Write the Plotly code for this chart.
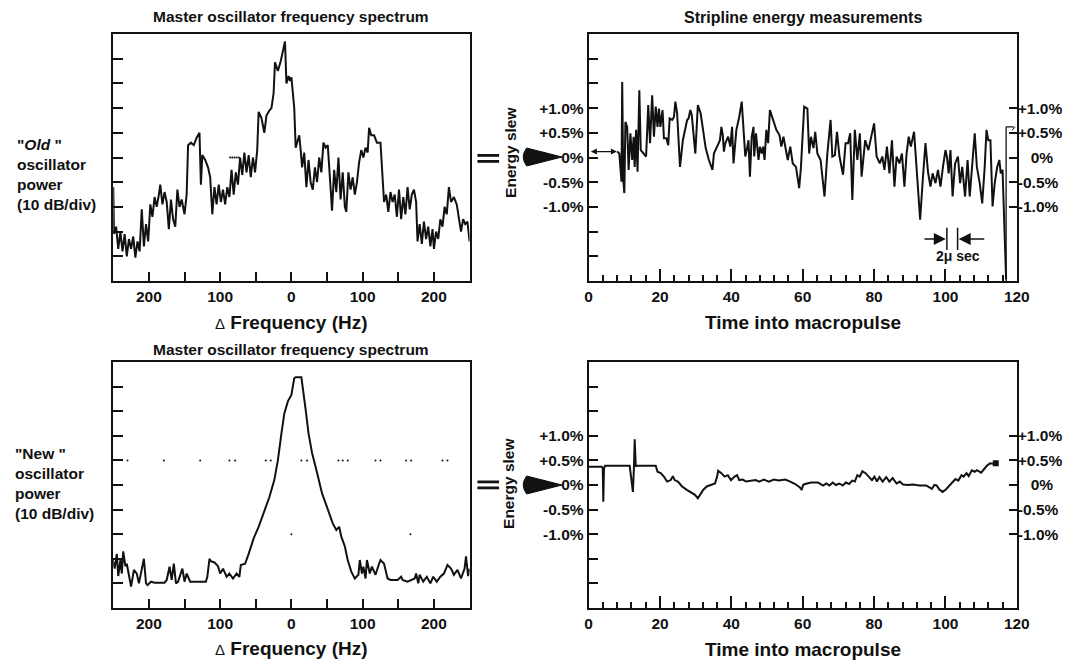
import plotly.graph_objects as go

# ---------------- data ----------------
old_freq = [-250, -249, -246, -243, -240, -237, -234, -231, -228, -225, -222, -219, -216, -213, -210, -207,
            -204, -201, -198, -195, -192, -189, -186, -184, -181, -178, -175, -172, -169, -166, -163, -160,
            -157, -154, -150, -147, -145, -141, -137, -133, -129, -127, -125, -121, -117, -114, -111, -108,
            -105, -102, -99, -96, -93, -90, -87, -84, -81, -78, -75, -72, -69, -66, -63, -60, -57, -54, -51,
            -48, -46, -42, -38, -35, -31, -28, -25, -23, -19, -15, -9, -7, -4, -2, 0, 4, 6, 9, 11, 13, 15,
            18, 21, 24, 27, 30, 33, 36, 39, 42, 45, 48, 51, 54, 57, 60, 63, 66, 69, 72, 75, 77, 80, 83, 86,
            89, 92, 95, 98, 101, 104, 107, 109, 112, 116, 120, 125, 130, 133, 136, 139, 142, 145, 148, 151,
            154, 157, 160, 163, 166, 169, 172, 175, 177, 180, 183, 186, 189, 192, 195, 198, 200, 203, 206,
            209, 212, 215, 218, 221, 224, 228, 232, 236, 238, 241, 244, 247, 250]
old_power = [3.8, 1.9, 2.2, 1.3, 2.0, 1.2, 1.9, 1.0, 1.7, 1.3, 1.8, 0.95, 1.6, 1.2, 2.9, 1.4,
             2.3, 1.6, 3.1, 2.6, 3.4, 3.0, 3.5, 3.9, 3.1, 3.6, 3.2, 2.1, 3.3, 2.5, 2.2, 3.7,
             3.0, 3.3, 2.7, 3.5, 5.5, 5.6, 5.5, 5.8, 6.0, 3.9, 5.1, 4.9, 4.6, 4.2, 2.7, 3.8,
             3.1, 3.9, 3.2, 3.7, 3.1, 3.8, 3.4, 4.5, 3.5, 4.4, 3.9, 5.0, 4.3, 5.2, 4.4, 5.1, 4.2, 5.0, 4.4,
             5.3, 6.85, 6.6, 6.0, 6.7, 6.9, 7.0, 7.6, 8.85, 8.5, 8.9, 9.7, 8.0, 8.3, 8.1, 8.25, 7.0, 5.4, 5.7, 5.9, 5.3, 4.6,
             5.2, 3.8, 4.9, 4.0, 3.7, 4.6, 4.0, 5.0, 4.4, 5.6, 5.4, 5.5, 4.2, 2.85, 4.5, 3.6, 5.0, 3.3, 4.4, 3.0, 2.8, 4.4, 3.7, 4.2,
             3.5, 4.0, 4.8, 5.3, 5.0, 5.4, 5.2, 6.2, 5.9, 5.9, 5.6, 5.6, 3.2, 3.5, 2.8, 3.6, 3.2, 3.5, 2.6, 3.7,
             2.5, 3.4, 2.7, 3.8, 2.9, 3.5, 3.7, 3.2, 1.6, 2.3, 1.5, 2.4, 1.7, 2.2, 1.4, 2.1, 1.3, 2.0, 1.7,
             2.5, 2.2, 3.0, 2.7, 3.8, 3.2, 3.4, 3.1, 2.3, 2.0, 2.5, 2.3, 2.4, 1.6]

new_freq = [-251, -248, -245, -243, -240, -238, -236, -233, -231, -228, -225, -221, -217, -214, -209, -207,
            -204, -202, -197, -192, -185, -178, -175, -171, -168, -165, -162, -159, -153, -150, -147, -142,
            -135, -120, -118, -115, -113, -108, -103, -100, -96, -91, -87, -82, -77, -73, -71, -65, -60, -53,
            -46, -38, -31, -24, -19, -14, -10, -5, 0, 4, 6, 14, 17, 20, 24, 29, 36, 43, 50, 58, 63, 67, 70,
            75, 79, 84, 89, 94, 96, 99, 101, 104, 106, 110, 113, 118, 123, 125, 130, 135, 139, 149, 154, 156,
            163, 173, 175, 178, 180, 185, 190, 195, 199, 204, 209, 214, 219, 224, 228, 233, 238, 243, 245, 248, 250]
new_power = [2.0, 1.6, 2.2, 1.3, 1.95, 1.4, 2.3, 1.7, 1.8, 1.3, 0.87, 1.55, 1.4, 1.0, 1.7, 2.0,
             1.0, 0.93, 1.07, 1.03, 1.03, 1.03, 1.14, 1.68, 1.14, 1.8, 1.0, 1.07, 1.6, 1.07, 1.4, 1.07,
             1.07, 1.07, 1.27, 2.0, 1.9, 1.85, 1.7, 1.4, 1.6, 1.27, 1.4, 1.2, 1.4, 1.27, 1.75, 1.8, 2.2, 2.83,
             3.3, 3.9, 4.5, 5.2, 6.0, 7.1, 7.9, 8.4, 8.66, 9.34, 9.38, 9.38, 8.8, 8.05, 7.1, 6.3, 5.5, 4.66, 4.1, 3.44, 3.17, 3.3, 2.9,
             2.5, 1.95, 1.48, 1.2, 1.35, 1.95, 1.4, 1.68, 1.2, 1.95, 1.4, 1.68, 1.35, 1.8, 1.95, 1.8, 1.2, 1.14, 1.14, 1.27, 1.14,
             1.07, 1.2, 1.4, 1.0, 1.35, 1.07, 1.27, 1.0, 1.27, 1.07, 1.27, 1.4, 1.75, 1.6, 1.35, 1.55, 1.2, 1.6, 2.1, 1.3, 1.6]

# "old" stripline energy measurement (% energy slew vs time into macropulse)
old_time = [8.0, 8.6, 9.2, 9.4, 9.7, 10.0, 10.3, 10.8, 11.2, 11.7, 12.2, 12.6, 12.9, 13.3, 13.7, 14.2, 14.6,
            15.4, 16.1, 16.7, 17.2, 17.8, 18.3, 18.8, 19.3, 19.7, 20.1, 20.7, 21.1, 21.8, 22.3, 22.7, 23.4,
            23.9, 24.3, 24.8, 25.2, 25.6, 26.4, 27.0, 27.6, 28.0, 28.5, 28.9, 29.4, 29.9, 30.6, 31.4, 32.8,
            33.7, 34.7, 35.1, 36.0, 36.8, 37.2, 37.6, 37.9, 38.3, 39.1, 39.7, 40.2, 40.6, 41.4, 42.2, 42.9,
            43.4, 43.9, 44.3, 44.8, 45.2, 45.7, 46.2, 46.4, 46.9, 47.4, 47.6, 48.0, 48.5, 48.9, 49.3, 49.8,
            50.3, 50.8, 51.7, 52.6, 53.5, 54.0, 54.6, 55.3, 55.8, 56.5, 57.2, 58.1, 59.0, 59.5, 60.4, 61.3,
            61.8, 62.3, 63.0, 63.5, 64.1, 65.0, 66.1, 66.9, 67.8, 68.3, 69.0, 69.6, 70.3, 71.3, 72.0, 72.7,
            73.3, 73.9, 74.6, 75.3, 76.0, 76.5, 77.5, 78.4, 79.0, 80.0, 80.7, 81.6, 82.3, 82.9, 83.6, 84.3,
            85.0, 85.7, 86.3, 87.1, 87.8, 88.5, 89.1, 89.7, 90.3, 91.2, 92.2, 92.9, 93.7, 94.4, 95.1, 95.8,
            96.4, 97.2, 97.9, 98.6, 99.3, 100.0, 100.4, 100.9, 101.4, 102.0, 102.7, 103.5, 104.1, 104.7,
            105.5, 106.2, 106.8, 107.5, 108.2, 108.8, 109.6, 110.3, 111.0, 111.5, 112.0, 112.6, 113.2, 113.8,
            114.5, 115.1, 115.5, 116.0, 116.5, 117.0]
old_slew = [0.12, 0.08, -0.49, 1.53, -0.45, -0.72, 0.72, 0.62, -0.25, 0.49, -0.05, 0.42, -0.19, 0.56, -0.29, 1.36, 0.15,
            0.08, 0.02, 1.06, 0.29, 1.26, 0.42, 1.03, 0.62, 0.99, 0.62, 0.96, 0.39, 0.39, 0.25, 0.79, 0.76,
            0.82, 1.13, 0.89, 0.42, -0.19, 0.35, 0.56, 0.76, 0.79, 0.96, 0.86, 0.49, 0.08, 1.06, 0.89, 0.19,
            -0.05, -0.25, 0.08, 0.22, 0.35, 0.62, 0.45, 0.12, 0.29, 0.42, 0.22, 0.62, -0.12, 0.56, 0.82, 1.13,
            0.62, 0.02, 0.15, 0.35, -0.39, 0.42, 0.62, 0.02, 0.49, 0.12, -0.05, 0.22, 0.08, 0.22, -0.05, 0.56,
            0.29, 0.96, 0.76, 0.56, 0.45, 0.22, 0.42, 0.15, -0.05, 0.22, -0.12, -0.19, -0.62, -0.19, 1.03, 0.99,
            0.08, 0.42, 0.19, 0.52, 0.08, -0.05, -0.79, 0.08, 0.76, 0.02, 0.05, 0.52, 0.02, -0.35, 0.29, 0.29,
            0.49, -0.86, 0.56, -0.05, 0.49, -0.39, 0.35, 0.15, 0.35, 0.69, 0.02, -0.12, 0.02, -0.25, 0.22, -0.32,
            0.35, -0.59, 0.02, -0.12, 0.08, -0.59, 0.08, 0.42, 0.22, 0.52, -0.52, -1.26, -0.39, 0.29, -0.29, -0.59,
            -0.32, -0.52, -0.25, -0.59, -0.19, 0.15, 0.02, -0.32, 0.15, -0.79, -0.12, 0.02, -0.52, -0.19,
            -0.79, -0.05, -0.79, -0.12, 0.49, -0.19, -0.52, -0.93, -0.19, 0.56, 0.35, 0.35, -0.99, -0.52,
            -0.19, -0.05, -0.32, -0.25, -1.26, -2.47]

# "new" stripline energy measurement
new_time = [0.0, 3.7, 3.95, 4.1, 4.3, 4.6, 11.5, 11.75, 12.4, 12.7, 12.9, 13.2, 13.3, 18.8, 19.3, 20.2, 21.1,
            22.0, 23.0, 23.6, 24.1, 25.0, 26.2, 27.5, 28.9, 29.8, 30.6, 31.2, 32.1, 33.1, 34.4, 35.4, 36.0,
            36.3, 37.2, 38.1, 39.0, 39.9, 40.9, 41.6, 42.2, 43.2, 44.1, 45.5, 46.8, 47.8, 49.1, 50.5, 51.9,
            53.3, 55.1, 56.5, 57.9, 59.2, 59.7, 60.1, 60.6, 62.4, 64.3, 65.7, 66.6, 67.5, 68.4, 69.3, 70.3,
            71.2, 72.1, 73.0, 73.9, 74.6, 75.3, 76.0, 76.7, 77.6, 78.5, 79.4, 80.1, 80.8, 81.5, 82.4, 83.4,
            84.3, 85.2, 86.3, 87.2, 88.1, 89.5, 90.9, 92.7, 94.6, 95.5, 96.2, 96.9, 97.5, 98.3, 99.2, 100.1,
            101.0, 101.9, 102.8, 103.6, 104.5, 105.1, 105.9, 106.5, 107.4, 108.2, 108.8, 110.0, 110.6, 111.6,
            112.5, 113.4, 114.1]
new_slew = [0.37, 0.37, 0.34, -0.34, 0.34, 0.39, 0.39, 0.24, -0.14, 0.37, 0.93, 0.37, 0.39, 0.39, 0.27, 0.24, 0.17,
            0.07, 0.10, 0.18, 0.10, 0.07, -0.03, -0.10, -0.17, -0.20, -0.27, -0.20, -0.10, -0.03, 0.0, 0.03, 0.17,
            0.29, 0.24, 0.17, 0.20, 0.10, 0.17, 0.20, 0.10, 0.11, 0.07, 0.09, 0.10, 0.07, 0.11, 0.07, 0.11,
            0.09, 0.11, 0.07, 0.02, -0.05, -0.10, 0.0, 0.02, 0.05, 0.05, -0.01, 0.03, -0.01, 0.05, 0.0, 0.03,
            -0.01, 0.05, 0.02, 0.09, 0.07, 0.20, 0.17, 0.28, 0.24, 0.17, 0.10, 0.17, 0.07, 0.16, 0.07, 0.16,
            0.07, 0.14, 0.03, 0.07, 0.01, 0.0, 0.01, -0.01, -0.01, -0.05, -0.08, 0.0, -0.01, -0.09, -0.14, -0.09,
            -0.02, 0.05, 0.12, 0.09, 0.20, 0.17, 0.24, 0.18, 0.30, 0.27, 0.30, 0.25, 0.30, 0.39,
            0.44, 0.43, 0.44]

freq_ticks = [-200, -150, -100, -50, 0, 50, 100, 150, 200]
freq_labels = ["200", "", "100", "", "0", "", "100", "", "200"]
slew_ticks = [-2.0, -1.5, -1.0, -0.5, 0.0, 0.5, 1.0, 1.5, 2.0]
slew_labels = ["", "", "-1.0%", "-0.5%", "0%", "+0.5%", "+1.0%", "", ""]
slew_right_ticks = [-1.0, -0.5, 0.0, 0.5, 1.0]
slew_right_labels = ["-1.0%", "-0.5%", "\u00a0\u00a0\u00a00%", "+0.5%", "+1.0%"]

# graticule dots visible on the analyser screens
old_dot_freq = [-86, -83, -80, -77, -74]
old_dot_level = [5.0, 5.0, 5.0, 5.0, 5.0]
new_dot_freq = [-230, -179, -128, -87, -79, -36, -29, 14, 22, 66, 72, 79, 118, 125, 161, 168, 212, 219, 0, 167]
new_dot_level = [6, 6, 6, 6, 6, 6, 6, 6, 6, 6, 6, 6, 6, 6, 6, 6, 6, 6, 3, 3]

# ---------------- layout helpers ----------------
W, H = 1081, 661
def px(x):
    return x / W
def py(y):
    return 1 - y / H

FONT = "Liberation Sans, Arial, Helvetica, sans-serif"
BLACK = "#111111"

fig = go.Figure()

line_style = dict(color=BLACK, width=2)
fig.add_trace(go.Scatter(x=old_freq, y=old_power, mode="lines", line=line_style,
                         xaxis="x", yaxis="y", showlegend=False, hoverinfo="skip"))
fig.add_trace(go.Scatter(x=old_dot_freq, y=old_dot_level, mode="markers",
                         marker=dict(color=BLACK, size=2), xaxis="x", yaxis="y", showlegend=False))
fig.add_trace(go.Scatter(x=old_time, y=old_slew, mode="lines", line=line_style,
                         xaxis="x2", yaxis="y2", showlegend=False, hoverinfo="skip"))
fig.add_trace(go.Scatter(x=new_freq, y=new_power, mode="lines", line=line_style,
                         xaxis="x3", yaxis="y3", showlegend=False, hoverinfo="skip"))
fig.add_trace(go.Scatter(x=new_dot_freq, y=new_dot_level, mode="markers",
                         marker=dict(color=BLACK, size=2), xaxis="x3", yaxis="y3", showlegend=False))
fig.add_trace(go.Scatter(x=new_time, y=new_slew, mode="lines", line=line_style,
                         xaxis="x4", yaxis="y4", showlegend=False, hoverinfo="skip"))
fig.add_trace(go.Scatter(x=new_time[-1:], y=new_slew[-1:], mode="markers",
                         marker=dict(color=BLACK, size=6, symbol="square"),
                         xaxis="x4", yaxis="y4", showlegend=False))
# invisible traces to carry the right-hand percentage axes
fig.add_trace(go.Scatter(x=[60], y=[0], mode="markers", marker=dict(opacity=0),
                         xaxis="x2", yaxis="y5", showlegend=False, hoverinfo="skip"))
fig.add_trace(go.Scatter(x=[60], y=[0], mode="markers", marker=dict(opacity=0),
                         xaxis="x4", yaxis="y6", showlegend=False, hoverinfo="skip"))

tickfont = dict(family=FONT, size=15.5, color=BLACK, weight="bold")
box = dict(showline=True, linecolor=BLACK, linewidth=2, mirror=True, showgrid=False,
           zeroline=False, ticks="inside", tickcolor=BLACK, tickwidth=1.5, tickfont=tickfont)

LX = [px(111), px(473)]
RX = [px(594), px(1029)]
TY = [py(281), py(34)]
BY = [py(608), py(362)]

def freq_x(dom, anchor):
    return dict(box, domain=dom, anchor=anchor, range=[-250, 250], tickmode="array",
                tickvals=freq_ticks, ticktext=freq_labels, ticklen=9)
def power_y(dom, anchor):
    return dict(box, domain=dom, anchor=anchor, range=[0, 10], tickmode="array",
                tickvals=[1, 2, 3, 4, 5, 6, 7, 8, 9], showticklabels=False, ticklen=10)
def time_x(dom, anchor):
    return dict(box, domain=dom, anchor=anchor, range=[0, 120], tickmode="linear", tick0=0,
                dtick=20, ticklen=12,
                minor=dict(dtick=4, tick0=0, ticklen=6, tickwidth=1.5, tickcolor=BLACK, ticks="inside"))
def slew_y(dom, anchor):
    return dict(box, domain=dom, anchor=anchor, range=[-2.5, 2.5], tickmode="array",
                tickvals=slew_ticks, ticktext=slew_labels, ticklen=9)
def slew_right(overlay, anchor):
    return dict(overlaying=overlay, anchor=anchor, side="right", range=[-2.5, 2.5],
                tickmode="array", tickvals=slew_right_ticks, ticktext=slew_right_labels,
                ticks="inside", ticklen=8, tickwidth=1.5, tickcolor=BLACK, showline=False,
                showgrid=False, zeroline=False, tickfont=tickfont)

fig.update_layout(
    width=W, height=H, autosize=False, margin=dict(l=0, r=0, t=0, b=0),
    paper_bgcolor="white", plot_bgcolor="white",
    font=dict(family=FONT, color=BLACK, size=14, weight="bold"),
    xaxis=freq_x(LX, "y"), yaxis=power_y(TY, "x"),
    xaxis2=time_x(RX, "y2"), yaxis2=slew_y(TY, "x2"),
    xaxis3=freq_x(LX, "y3"), yaxis3=power_y(BY, "x3"),
    xaxis4=time_x(RX, "y4"), yaxis4=slew_y(BY, "x4"),
    yaxis5=slew_right("y2", "x2"), yaxis6=slew_right("y4", "x4"),
)

annotations = []
def label(x, y, text, size=14, **kw):
    d = dict(x=px(x), y=py(y), xref="paper", yref="paper", text=text, showarrow=False,
             xanchor="center", yanchor="middle",
             font=dict(family=FONT, size=size, color=BLACK, weight="bold"))
    d.update(kw)
    annotations.append(d)

# panel titles
label(292, 16, "Master oscillator frequency spectrum", 15.5)
label(812, 17, "Stripline energy measurements", 16)
label(292, 349, "Master oscillator frequency spectrum", 15.5)
# axis titles
delta = "<span style='font-weight:normal;font-size:15px'>\u0394</span> Frequency (Hz)"
label(292, 322, delta, 19)
label(292, 648, delta, 19)
label(812, 322, "Time into macropulse", 19)
label(812, 649, "Time into macropulse", 19)
# row labels
label(11, 175, '"<i>Old</i> "<br>oscillator<br>power<br>(10 dB/div)', 15.5, xanchor="left", align="left")
label(9, 483, '"New "<br>oscillator<br>power<br>(10 dB/div)', 15.5, xanchor="left", align="left")
# energy slew labels
label(514, 152, "Energy slew", 15.5, textangle=-90)
label(512, 483, "Energy slew", 15.5, textangle=-90)
# 2 micro-second marker text
annotations.append(dict(x=103.4, y=-2.0, xref="x2", yref="y2", text="2\u03bc sec", showarrow=False,
                        xanchor="center", yanchor="middle",
                        font=dict(family=FONT, size=14, color=BLACK, weight="bold")))
# arrows for 2 micro-second marker
for tail, head in [(93.7, 100.1), (111.3, 103.7)]:
    annotations.append(dict(x=head, y=-1.65, ax=tail, ay=-1.65, xref="x2", yref="y2",
                            axref="x2", ayref="y2", text="", showarrow=True, arrowhead=2,
                            arrowsize=1.6, arrowwidth=1.5, arrowcolor=BLACK))
# double arrow at start of the old measurement
annotations.append(dict(x=7.9, y=0.12, ax=0.2, ay=0.12, xref="x2", yref="y2", axref="x2",
                        ayref="y2", text="", showarrow=True, arrowhead=2, startarrowhead=2,
                        arrowside="end+start", arrowsize=1, arrowwidth=1.2, arrowcolor=BLACK))
fig.update_layout(annotations=annotations)

shapes = []
# "=" signs
for yc in (157.5, 484.0):
    for dy in (-3.5, 2.5):
        shapes.append(dict(type="rect", xref="paper", yref="paper",
                           x0=px(481), x1=px(503), y0=py(yc + dy), y1=py(yc + dy + 2.8),
                           fillcolor=BLACK, line=dict(width=0)))
# wedge arrows pointing to 0%
for yc in (157.0, 485.0):
    path = (f"M {px(531)},{py(yc - 9)} Q {px(524)},{py(yc)} {px(531)},{py(yc + 9)} "
            f"L {px(567)},{py(yc)} Z")
    shapes.append(dict(type="path", xref="paper", yref="paper", path=path,
                       fillcolor=BLACK, line=dict(color=BLACK, width=1)))
# 2 micro-second bars
for t in (100.4, 103.4):
    shapes.append(dict(type="line", xref="x2", yref="y2", x0=t, x1=t, y0=-1.42, y1=-1.87,
                       line=dict(color=BLACK, width=1.5)))
# end-of-pulse bracket in the old measurement
shapes.append(dict(type="line", xref="x2", yref="y2", x0=117.0, x1=117.0, y0=-2.5, y1=0.62,
                   line=dict(color=BLACK, width=1.3)))
shapes.append(dict(type="line", xref="x2", yref="y2", x0=117.0, x1=119.2, y0=0.62, y1=0.62,
                   line=dict(color=BLACK, width=1.3)))
shapes.append(dict(type="line", xref="x2", yref="y2", x0=118.6, x1=119.6, y0=0.55, y1=0.62,
                   line=dict(color=BLACK, width=1.0)))
fig.update_layout(shapes=shapes)

post = ("document.documentElement.style.overflow='hidden';"
        "document.body.style.margin='0';document.body.style.overflow='hidden';"
        "var gd=document.getElementById('{plot_id}');"
        "gd.style.width='1081px';gd.style.height='661px';"
        "Plotly.relayout(gd,{width:1081,height:661,autosize:false});")
fig.write_html("out.html", config={"displayModeBar": False, "responsive": False},
               post_script=post)
